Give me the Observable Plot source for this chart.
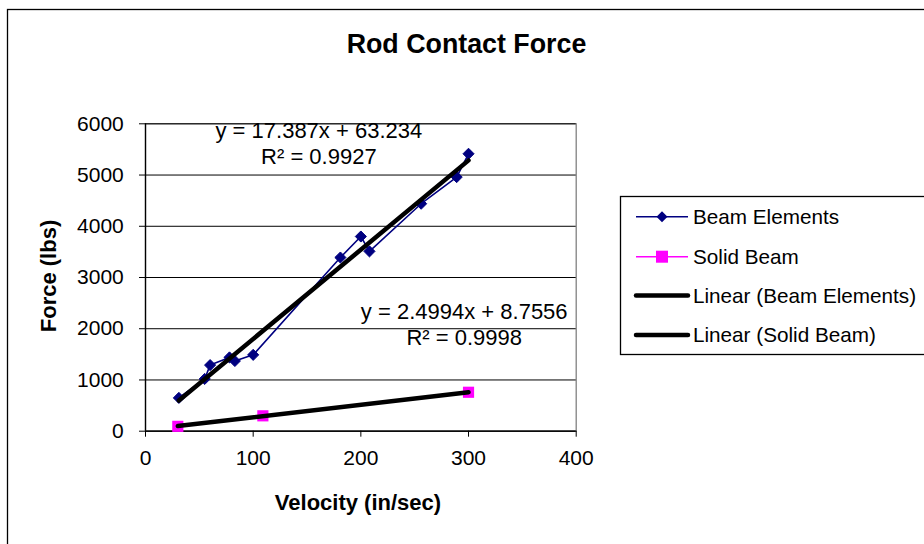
<!DOCTYPE html>
<html><head><meta charset="utf-8">
<script src="https://cdn.jsdelivr.net/npm/d3@7"></script>
<script src="https://cdn.jsdelivr.net/npm/@observablehq/plot@0.6"></script>
<style>body{margin:0;background:#fff;} svg{display:block;}</style>
</head><body><div id="chart"></div>
<script>
// ---- data ----
const beamVelocity = [31, 55, 60, 78, 83, 100, 181, 200, 208, 256, 289, 300];
const beamForce    = [650, 1020, 1290, 1440, 1370, 1490, 3390, 3800, 3510, 4440, 4960, 5415];
const solidVelocity = [30, 109, 300];
const solidForce    = [95, 300, 760];
const seriesNames = ["Beam Elements", "Solid Beam", "Linear (Beam Elements)", "Linear (Solid Beam)"];
const xTicks = [0, 100, 200, 300, 400];
const yTicks = [0, 1000, 2000, 3000, 4000, 5000, 6000];
const eqLabels = ["y = 17.387x + 63.234\nR² = 0.9927", "y = 2.4994x + 8.7556\nR² = 0.9998"];
const eqVelocity = [161, 296];
const eqForce = [5630, 2107];
const chartTitle = "Rod Contact Force";
const xTitle = "Velocity (in/sec)";
const yTitle = "Force (lbs)";

const beam = beamVelocity.map((v, i) => ({v, f: beamForce[i]}));
const solid = solidVelocity.map((v, i) => ({v, f: solidForce[i]}));
const eq = eqLabels.map((t, i) => ({t, v: eqVelocity[i], f: eqForce[i]}));

const FONT = "'Liberation Sans', Arial, Helvetica, sans-serif";
const NAVY = "#000080", MAGENTA = "#FF00FF";

const W = 924, H = 544;
const mL = 145, mR = W - 575.7, mT = 123.3, mB = H - 430.7;

const svg = Plot.plot({
  width: W, height: H,
  marginLeft: mL, marginRight: mR, marginTop: mT, marginBottom: mB,
  style: {fontFamily: FONT, fontSize: "21px", background: "#fff", color: "#000"},
  x: {domain: [0, 400], ticks: xTicks, label: null},
  y: {domain: [0, 6000], ticks: yTicks, label: null},
  marks: [
    Plot.frame({stroke: "#808080", strokeWidth: 1.3}),
    Plot.gridY(yTicks, {stroke: "#000", strokeOpacity: 1, strokeWidth: 1}),
    Plot.axisY(yTicks, {tickSize: 6, tickPadding: 15.7, fontSize: 21, label: null, stroke: "#000", tickFormat: d3.format("d")}),
    Plot.axisX(xTicks, {tickSize: 6, tickPadding: 12.6, fontSize: 21, label: null, stroke: "#000", tickFormat: d3.format("d")}),
    Plot.ruleX([0], {stroke: "#000", strokeWidth: 1.3}),
    Plot.ruleY([0], {stroke: "#000", strokeWidth: 1.3}),
    Plot.line(beam, {x: "v", y: "f", stroke: NAVY, strokeWidth: 1.6}),
    Plot.line(solid, {x: "v", y: "f", stroke: MAGENTA, strokeWidth: 1.6}),
    Plot.dot(beam, {x: "v", y: "f", symbol: "diamond2", r: 5, fill: NAVY, stroke: NAVY, strokeWidth: 1}),
    Plot.dot(solid, {x: "v", y: "f", symbol: "square", r: 6.3, fill: MAGENTA, stroke: "none"}),
    Plot.linearRegressionY(beam, {x: "v", y: "f", stroke: "#000", strokeWidth: 4.5, ci: 0}),
    Plot.linearRegressionY(solid, {x: "v", y: "f", stroke: "#000", strokeWidth: 4.5, ci: 0}),
    Plot.text(eq, {x: "v", y: "f", text: "t", fontSize: 22, lineHeight: 1.18, textAnchor: "middle", lineAnchor: "middle", fill: "#000"})
  ]
});

const s = d3.select(svg);
// outer chart border
s.append("rect").attr("x", 7.5).attr("y", 9.5).attr("width", 1000).attr("height", 1000)
  .attr("fill", "none").attr("stroke", "#000").attr("stroke-width", 1.3);
// title
s.append("text").attr("x", 466.5).attr("y", 53).attr("text-anchor", "middle")
  .attr("font-family", FONT).attr("font-size", 26.8).attr("font-weight", "bold").text(chartTitle);
// axis titles
s.append("text").attr("x", 358).attr("y", 510).attr("text-anchor", "middle")
  .attr("font-family", FONT).attr("font-size", 22).attr("font-weight", "bold").text(xTitle);
s.append("text").attr("transform", "translate(56,276) rotate(-90)").attr("text-anchor", "middle")
  .attr("font-family", FONT).attr("font-size", 22).attr("font-weight", "bold").text(yTitle);

// legend
const lg = s.append("g");
lg.append("rect").attr("x", 620.5).attr("y", 196.5).attr("width", 400).attr("height", 158)
  .attr("fill", "#fff").attr("stroke", "#000").attr("stroke-width", 1.3);
const rowsY = [216.7, 256.7, 295.5, 335];
const styles = [
  {stroke: NAVY, w: 1.6, marker: "diamond"},
  {stroke: MAGENTA, w: 1.6, marker: "square"},
  {stroke: "#000", w: 4.5},
  {stroke: "#000", w: 4.5}
];
seriesNames.forEach((name, i) => {
  const y = rowsY[i], st = styles[i];
  lg.append("line").attr("x1", 636).attr("x2", 688).attr("y1", y).attr("y2", y)
    .attr("stroke", st.stroke).attr("stroke-width", st.w).attr("stroke-linecap", st.w > 2 ? "round" : "butt");
  if (st.marker === "diamond") {
    lg.append("path").attr("d", `M662,${y-5.5}L667.5,${y}L662,${y+5.5}L656.5,${y}Z`).attr("fill", NAVY);
  } else if (st.marker === "square") {
    lg.append("rect").attr("x", 656).attr("y", y - 6).attr("width", 12).attr("height", 12).attr("fill", MAGENTA);
  }
  lg.append("text").attr("x", 693).attr("y", y).attr("dy", "0.35em").attr("text-anchor", "start")
    .attr("font-family", FONT).attr("font-size", 20.7).text(name);
});

document.getElementById("chart").appendChild(svg);
</script>
</body></html>
